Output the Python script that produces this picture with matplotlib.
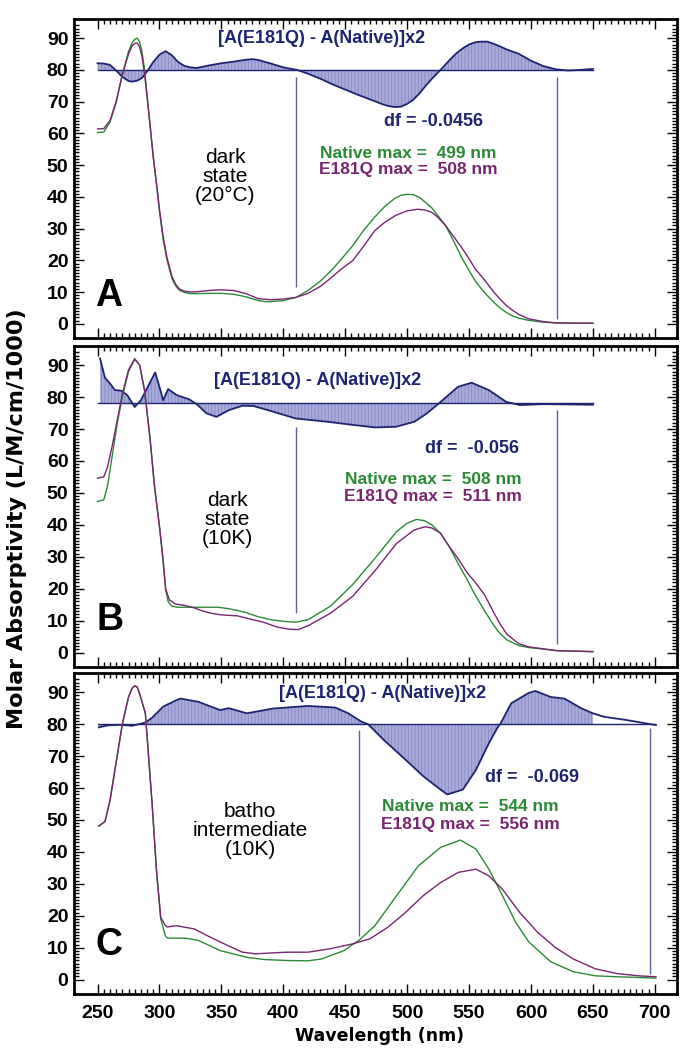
"""Absorption spectra of native vs E181Q, three panels (A, B, C) with
difference spectra on top."""

import matplotlib
matplotlib.use("Agg")
import matplotlib.pyplot as plt
from matplotlib.ticker import FixedLocator, NullFormatter
import numpy as np

NAVY = "#1d2470"
FILL = "#a9acd9"
HATCH = "#8287c4"
MARK = "#5f6399"
GREEN = "#2b8a35"
PURPLE = "#77266f"
NARROW = ["Liberation Sans Narrow", "Liberation Sans", "DejaVu Sans"]
SANS = ["Liberation Sans", "DejaVu Sans"]
WIDE = ["DejaVu Sans"]

# ---- panel A: dark state (20 C) ----
A_DIFF_WL = [250, 255, 260, 265, 270, 275, 278, 282, 286, 290, 295, 300, 305, 310,
             315, 320, 325, 330, 340, 350, 360, 370, 375, 380, 390, 400, 411, 420,
             430, 440, 450, 460, 470, 480, 485, 490, 495, 500, 505, 510, 515, 520,
             527, 535, 540, 545, 550, 555, 560, 565, 570, 575, 580, 590, 600, 610,
             620, 630, 640, 650]
A_DIFF = [82.1, 82.0, 81.6, 79.8, 77.8, 76.5, 76.3, 76.6, 77.5, 79.5, 82.5, 84.8, 85.9,
          84.6, 82.5, 81.3, 80.8, 80.6, 81.4, 82.1, 82.6, 83.2, 83.4, 83.1, 82.0, 80.8,
          80.0, 78.8, 77.2, 75.4, 73.8, 72.2, 70.7, 69.2, 68.6, 68.3, 68.4, 69.3, 70.6,
          72.6, 75.0, 77.2, 80.0, 83.4, 85.3, 86.8, 88.0, 88.7, 88.9, 88.9, 88.2, 87.4,
          86.5, 85.1, 82.9, 81.2, 80.2, 79.8, 80.0, 80.3]
A_NAT_WL = [250, 255, 260, 265, 270, 275, 278, 280, 282, 284, 286, 288, 290, 292, 295,
            298, 300, 303, 306, 310, 313, 316, 320, 325, 330, 340, 350, 360, 370, 380,
            385, 390, 400, 410, 420, 430, 440, 450, 456, 465, 474, 482, 490, 495, 500,
            505, 510, 515, 520, 525, 531, 537, 545, 550, 555, 560, 565, 570, 575, 580,
            585, 590, 598, 610, 620, 635, 650]
A_NAT = [60.3, 60.4, 63.5, 69.7, 78.5, 85.8, 88.6, 89.6, 90.0, 88.8, 85.5, 80.0, 72.0,
         64.3, 52.5, 42.5, 35.5, 26.5, 20.2, 14.3, 12.0, 10.6, 9.9, 9.5, 9.5, 9.6, 9.6,
         9.3, 8.5, 7.3, 7.0, 7.0, 7.3, 8.3, 10.5, 13.5, 17.3, 21.8, 24.6, 29.5, 33.7,
         37.0, 39.5, 40.5, 40.8, 40.7, 39.8, 38.2, 36.5, 34.0, 31.0, 26.5, 20.2, 16.8,
         13.5, 11.0, 8.8, 6.8, 5.0, 3.6, 2.5, 1.8, 1.1, 0.5, 0.3, 0.2, 0.2]
A_MUT_WL = [250, 255, 260, 265, 270, 275, 278, 280, 282, 284, 286, 288, 290, 292, 295,
            298, 300, 303, 306, 310, 313, 316, 320, 325, 330, 340, 349, 360, 370, 380,
            390, 400, 410, 420, 430, 438, 447, 456, 465, 474, 482, 491, 500, 509, 515,
            520, 525, 531, 537, 545, 550, 555, 563, 570, 575, 580, 585, 590, 598, 610,
            620, 635, 650]
A_MUT = [61.4, 61.5, 64.0, 70.0, 78.5, 85.0, 87.6, 88.3, 88.5, 87.2, 84.0, 78.5, 71.5,
         64.0, 52.5, 43.0, 36.0, 27.5, 21.0, 15.0, 12.5, 11.0, 10.3, 10.0, 10.1, 10.5,
         10.7, 10.5, 9.5, 7.9, 7.6, 7.8, 8.3, 9.6, 11.8, 14.3, 17.3, 19.9, 24.5, 29.4,
         32.0, 34.2, 35.6, 36.1, 35.8, 35.1, 33.5, 31.0, 27.8, 23.5, 20.5, 17.3, 13.6,
         10.0, 7.8, 5.8, 4.3, 3.0, 1.6, 0.7, 0.3, 0.2, 0.2]

# ---- panel B: dark state (10 K) ----
B_DIFF_WL = [252, 256, 260, 264, 269, 274, 280, 285, 292, 296.5, 300, 303, 307, 314,
             324, 330, 338, 346, 356, 367, 376, 392, 410, 435, 456, 474, 491, 506, 516,
             525, 541, 552, 566, 580, 591, 610, 630, 650]
B_DIFF = [92.1, 86.0, 84.3, 82.2, 82.0, 80.6, 76.9, 79.0, 84.3, 87.7, 83.2, 79.0, 82.5,
          80.6, 79.3, 77.8, 74.9, 73.8, 75.9, 77.3, 77.2, 75.4, 73.3, 72.3, 71.3, 70.5,
          70.7, 72.3, 74.9, 77.8, 83.2, 84.5, 82.2, 78.5, 77.5, 77.8, 77.7, 77.6]
B_NAT_WL = [250, 255, 258, 262, 266, 270, 275, 280, 284, 288, 292.5, 296, 300, 303, 305,
            307, 310, 315, 320, 330, 340, 347, 355, 363, 370, 380, 390, 400, 410, 420,
            438, 456, 474, 491.5, 500, 507.5, 514, 520, 527, 534, 541, 548.5, 555, 562.7,
            570, 575, 580.5, 590, 598, 621, 650]
B_NAT = [47.3, 47.8, 52.0, 62.0, 72.0, 80.0, 88.0, 91.8, 90.0, 82.0, 66.6, 52.0, 39.5,
         28.0, 19.7, 16.0, 14.5, 14.2, 14.2, 14.2, 14.2, 14.2, 13.8, 13.2, 12.5, 11.2,
         10.3, 9.8, 9.5, 10.3, 14.5, 21.3, 29.5, 37.9, 40.5, 41.7, 41.3, 40.0, 37.3, 33.2,
         28.0, 22.8, 18.0, 13.0, 8.5, 6.0, 4.0, 2.2, 1.6, 0.6, 0.3]
B_MUT_WL = [250, 255, 258, 262, 266, 270, 275, 280, 284, 288, 292.5, 296, 300, 303, 305,
            308, 313, 320, 328, 335, 342, 350, 363, 370, 384, 395, 405, 412, 420, 438,
            456, 474, 491.5, 505.7, 514.6, 520, 527, 534, 541, 548.5, 555, 562.7, 570,
            575, 580.5, 590, 598, 621, 650]
B_MUT = [54.6, 55.0, 58.0, 65.0, 73.0, 81.0, 88.5, 92.0, 90.0, 82.0, 66.6, 52.0, 39.5,
         29.0, 20.0, 16.5, 15.2, 14.8, 14.0, 13.0, 12.3, 11.8, 11.5, 10.8, 9.5, 8.0, 7.3,
         7.2, 8.4, 12.3, 17.6, 25.6, 34.2, 38.4, 39.4, 39.0, 37.4, 33.2, 29.5, 25.0, 22.0,
         18.0, 12.5, 9.0, 5.8, 2.8, 1.8, 0.6, 0.3]

# ---- panel C: batho intermediate (10 K) ----
C_DIFF_WL = [251, 258, 267, 278, 288.6, 294, 303, 313.6, 317, 331.4, 349, 356, 370.5,
             392, 420, 442, 452, 463, 468.4, 481, 498.6, 513, 527, 532.4, 545, 555.6, 566,
             573.4, 575.2, 584, 598.3, 603.6, 616, 627, 641, 650, 659, 677, 701]
C_DIFF = [79.0, 79.6, 79.8, 79.5, 80.5, 82.0, 85.5, 87.5, 88.0, 87.0, 84.4, 85.0, 83.4,
          84.9, 85.7, 85.2, 83.5, 80.8, 80.0, 75.1, 68.9, 63.7, 59.5, 58.0, 59.5, 65.7,
          74.0, 79.2, 80.0, 86.5, 89.8, 90.4, 88.5, 88.0, 84.9, 83.4, 82.3, 81.3, 79.7]
C_NAT_WL = [251, 256, 260, 265, 270, 275, 278, 280, 282, 284, 288.6, 294, 297.5, 301,
            304.7, 306.4, 320.7, 331.4, 349, 370.5, 384.7, 402.5, 420, 431, 449, 461, 474,
            491.5, 509, 527, 543, 555.6, 566, 577, 587.6, 598.3, 616, 634, 652, 669.5, 701]
C_NAT = [48.1, 49.5, 56.0, 68.0, 80.0, 88.5, 91.3, 92.0, 91.6, 89.5, 83.4, 55.4, 34.6,
         19.0, 13.8, 13.0, 13.0, 12.3, 9.1, 7.0, 6.3, 6.0, 5.9, 6.5, 9.1, 12.3, 16.9,
         26.3, 35.6, 41.4, 43.7, 40.9, 34.6, 26.3, 18.0, 11.8, 5.6, 2.5, 1.2, 0.9, 0.5]
C_MUT_WL = [251, 256, 260, 265, 270, 275, 278, 280, 282, 284, 288.6, 294, 297.5, 301,
            304.7, 306.4, 313.6, 328, 338.5, 349, 367, 377.6, 402.5, 420, 438, 456, 470,
            484.4, 498.6, 513, 527, 541.4, 555.6, 566, 577, 591, 605.4, 619.6, 634, 652,
            669.5, 687, 701]
C_MUT = [48.1, 49.5, 56.0, 68.0, 80.0, 88.5, 91.3, 92.0, 91.6, 89.5, 83.4, 55.4, 34.6,
         19.5, 17.0, 16.5, 16.9, 15.9, 13.8, 11.8, 8.6, 8.1, 8.6, 8.6, 9.7, 11.2, 12.8,
         16.4, 21.0, 26.3, 30.4, 33.6, 34.6, 32.5, 28.3, 21.0, 14.8, 10.1, 6.5, 3.4, 1.9,
         1.2, 0.9]

PANELS = [
    dict(letter="A", label="dark\nstate\n(20°C)", diff_wl=A_DIFF_WL, diff=A_DIFF,
         base=80, base_span=(250, 650), fill_end=650,
         nat_wl=A_NAT_WL, nat=A_NAT, mut_wl=A_MUT_WL, mut=A_MUT,
         marks=[(410, 77.8, 11.7), (621, 77.8, 1.5)],
         df="df = -0.0456", nat_max="Native max =  499 nm", mut_max="E181Q max =  508 nm",
         title_xy=(431, 90), df_xy=(521, 63.7), max_xy=(501, 53.8, 48.6),
         label_xy=(353, 46.4), letter_xy=(259, 8.9)),
    dict(letter="B", label="dark\nstate\n(10K)", diff_wl=B_DIFF_WL, diff=B_DIFF,
         base=78, base_span=(250, 650), fill_end=650,
         nat_wl=B_NAT_WL, nat=B_NAT, mut_wl=B_MUT_WL, mut=B_MUT,
         marks=[(410, 70.7, 12.5), (621, 75.9, 2.8)],
         df="df =  -0.056", nat_max="Native max =  508 nm", mut_max="E181Q max =  511 nm",
         title_xy=(427.5, 85.3), df_xy=(552, 64), max_xy=(521, 54.3, 48.8),
         label_xy=(354.5, 41.8), letter_xy=(260, 10.3)),
    dict(letter="C", label="batho\nintermediate\n(10K)", diff_wl=C_DIFF_WL, diff=C_DIFF,
         base=80, base_span=(250, 700), fill_end=650,
         nat_wl=C_NAT_WL, nat=C_NAT, mut_wl=C_MUT_WL, mut=C_MUT,
         marks=[(461, 78.2, 13.8), (696, 78.7, 1.8)],
         df="df =  -0.069", nat_max="Native max =  544 nm", mut_max="E181Q max =  556 nm",
         title_xy=(480.5, 89.6), df_xy=(601, 63.4), max_xy=(551, 54.1, 48.7),
         label_xy=(373.4, 46.8), letter_xy=(259, 10.7)),
]

# axes boxes in figure fraction: left, bottom, width, height
BOXES = [(0.1076, 0.678, 0.8765, 0.3038),
         (0.1076, 0.3648, 0.8765, 0.3057),
         (0.1076, 0.0533, 0.8765, 0.3057)]


def _style_axes(ax, show_xlabels):
    ax.set_xlim(231, 718)
    ax.set_ylim(-4.5, 96)
    for s in ax.spines.values():
        s.set_linewidth(2.0)
        s.set_color("black")
    ax.xaxis.set_major_locator(FixedLocator(np.arange(250, 701, 50)))
    ax.xaxis.set_minor_locator(FixedLocator(np.arange(250, 701, 5)))
    ax.yaxis.set_major_locator(FixedLocator(np.arange(0, 91, 10)))
    ax.yaxis.set_minor_locator(FixedLocator(np.arange(0, 95, 1)))
    ax.tick_params(which="both", direction="in", top=True, right=True, width=1.0)
    ax.tick_params(which="major", length=7)
    ax.tick_params(which="minor", length=3.5)
    ax.tick_params(axis="y", which="major", labelsize=14, pad=4)
    ax.tick_params(axis="x", which="major", labelsize=14, pad=8)
    if not show_xlabels:
        ax.xaxis.set_major_formatter(NullFormatter())
    for lab in ax.get_xticklabels() + ax.get_yticklabels():
        lab.set_fontweight("bold")
        lab.set_family(SANS)


def _draw_panel(ax, p):
    wl = np.asarray(p["diff_wl"], dtype=float)
    d = np.asarray(p["diff"], dtype=float)
    base = p["base"]
    m = wl <= p["fill_end"] + 1
    ax.fill_between(wl[m], base, d[m], facecolor=FILL, edgecolor=HATCH,
                    hatch="|||||", linewidth=0, zorder=1)
    ax.plot(p["base_span"], [base, base], color=NAVY, lw=1.0, zorder=2)
    ax.plot(wl, d, color=NAVY, lw=1.3, zorder=3)
    for x, y0, y1 in p["marks"]:
        ax.vlines(x, y1, y0, color=MARK, lw=1.0, zorder=2)

    ax.plot(p["nat_wl"], p["nat"], color=GREEN, lw=1.0, zorder=4)
    ax.plot(p["mut_wl"], p["mut"], color=PURPLE, lw=1.0, zorder=4)

    tx, ty = p["title_xy"]
    ax.text(tx, ty, "[A(E181Q) - A(Native)]x2", color=NAVY, fontsize=13,
            fontweight="bold", family=NARROW, ha="center", va="center")
    dx, dy = p["df_xy"]
    ax.text(dx, dy, p["df"], color=NAVY, fontsize=13, fontweight="bold",
            family=NARROW, ha="center", va="center")
    mx, my1, my2 = p["max_xy"]
    ax.text(mx, my1, p["nat_max"], color=GREEN, fontsize=12.5, fontweight="bold",
            family=NARROW, ha="center", va="center")
    ax.text(mx, my2, p["mut_max"], color=PURPLE, fontsize=12.5, fontweight="bold",
            family=NARROW, ha="center", va="center")
    lx, ly = p["label_xy"]
    ax.text(lx, ly, p["label"], color="black", fontsize=15, family=SANS,
            ha="center", va="center", linespacing=1.0)
    ax.text(*p["letter_xy"], p["letter"], color="black", fontsize=27,
            fontweight="bold", family=SANS, ha="center", va="center")


def main():
    fig = plt.figure(figsize=(6.88, 10.5), dpi=100)
    plt.rcParams["hatch.linewidth"] = 0.6
    for i, (p, box) in enumerate(zip(PANELS, BOXES)):
        ax = fig.add_axes(box)
        _draw_panel(ax, p)
        _style_axes(ax, show_xlabels=(i == len(PANELS) - 1))
    fig.text(0.551, 0.0133, "Wavelength (nm)", ha="center", va="center",
             fontsize=12.5, fontweight="bold", family=WIDE)
    fig.text(0.025, 0.506, "Molar Absorptivity (L/M/cm/1000)", rotation=90,
             ha="center", va="center", fontsize=16, fontweight="bold", family=WIDE)
    fig.savefig("out.png", dpi=100)
    plt.close(fig)


if __name__ == "__main__":
    main()
